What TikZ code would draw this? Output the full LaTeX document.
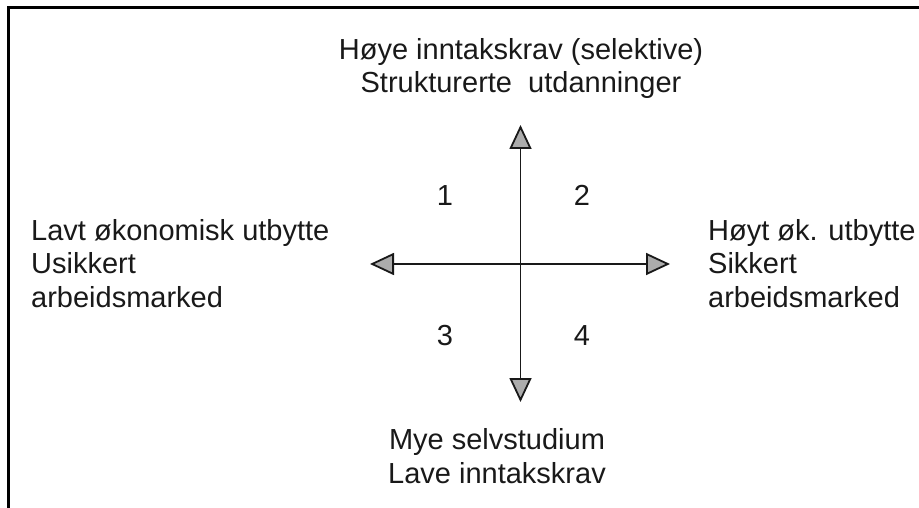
\documentclass[tikz,border=0pt]{standalone}
\usepackage{fontspec}
\setmainfont{Liberation Sans}
\usetikzlibrary{arrows.meta, positioning}
\def\TipColor{gray!65}
\def\InkColor{black!90}

\begin{document}
\begin{tikzpicture}[x=1pt, y=-1pt,
     T/.style = {inner sep=0pt, text=\InkColor, font=\fontsize{29}{33.5}\selectfont},
   num/.style = {T, anchor=base},
    ax/.style = {draw=\InkColor, line width=1.8pt,
                 {Triangle[length=24pt, width=22pt, fill=\TipColor]}-{Triangle[length=24pt, width=22pt, fill=\TipColor]}}
                        ]
\useasboundingbox (0,0) rectangle (919,508);
% frame: only top and left side
\draw[line width=3pt] (8,508) -- (8,8) -- (919,8);

\coordinate (west)  at (370,264);
\coordinate (east)  at (670,264);
\coordinate (north) at (520.5,125);
\coordinate (south) at (520.5,402);

\draw[ax] (west)  -- (east);
\draw[ax] (south) -- (north);

% base anchor sits on the last line
\node[T, anchor=base, align=center] (top) at (521,93)
     {Høye inntakskrav (selektive)\\Strukturerte~ utdanninger};
\node[T, anchor=base, align=center] (bottom) at (497,483)
     {Mye selvstudium\\Lave inntakskrav};
\node[T, anchor=base west, align=left] (left) at (31,307)
     {Lavt økonomisk utbytte\\Usikkert\\arbeidsmarked};
\node[T, anchor=base west, align=left] (right) at (708,307)
     {Høyt øk. utbytte\\Sikkert\\arbeidsmarked};

\node[num] (q1) at (445,205) {1};
\node[num] (q2) at (582,205) {2};
\node[num] (q3) at (445,345) {3};
\node[num] (q4) at (582,345) {4};
\end{tikzpicture}
\end{document}
